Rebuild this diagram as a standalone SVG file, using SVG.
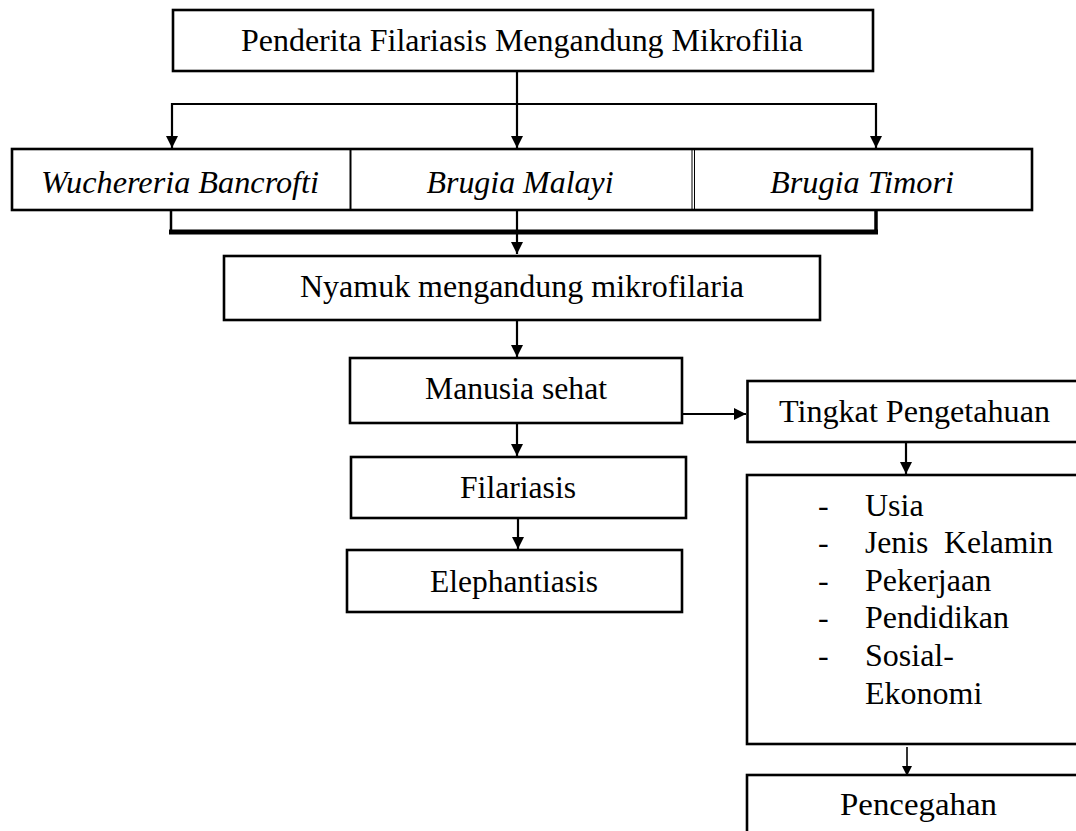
<svg xmlns="http://www.w3.org/2000/svg" width="1076" height="831" viewBox="0 0 1076 831">
<style>
.box{fill:#fff;stroke:#000;stroke-width:2.6}
text{font-family:'Liberation Serif','Times New Roman',Tinos,Times,serif;font-size:32px;fill:#000}
.c{text-anchor:middle}
.i{font-style:italic}
.ln{fill:none;stroke:#000;stroke-width:2.2}
.thin{fill:none;stroke:#000;stroke-width:1.6}
</style>
<defs>
<marker id="ah" markerUnits="userSpaceOnUse" markerWidth="12" markerHeight="14" refX="13" refY="6.5" orient="auto" viewBox="0 0 13 13">
<path d="M0,0 L13,6.5 L0,13 z" fill="#000"/>
</marker>
<marker id="ahs" markerUnits="userSpaceOnUse" markerWidth="10" markerHeight="12" refX="10" refY="5" orient="auto" viewBox="0 0 10 10">
<path d="M0,0 L10,5 L0,10 z" fill="#000"/>
</marker>
</defs>
<rect width="1076" height="831" fill="#fff"/>

<g id="connectors">
<path class="ln" d="M517,71 V148" marker-end="url(#ah)"/>
<path class="ln" d="M172,104 H876"/>
<path class="ln" d="M172,103 V148" marker-end="url(#ah)"/>
<path class="ln" d="M876,103 V148" marker-end="url(#ah)"/>
<path fill="none" stroke="#000" stroke-width="2.5" d="M171,210 V231"/>
<path fill="none" stroke="#000" stroke-width="3.5" d="M876,210 V231"/>
<path fill="none" stroke="#000" stroke-width="5" d="M169,232 H878"/>
<path class="ln" d="M517,210 V254" marker-end="url(#ah)"/>
<path class="ln" d="M517,320 V357" marker-end="url(#ah)"/>
<path class="ln" d="M517,423 V456" marker-end="url(#ah)"/>
<path class="ln" d="M518,518 V549" marker-end="url(#ah)"/>
<path class="ln" d="M682,414 H746" marker-end="url(#ah)"/>
<path class="ln" d="M906,442 V474" marker-end="url(#ah)"/>
<path class="thin" d="M907,747 V776" marker-end="url(#ahs)"/>
</g>

<g id="n-penderita">
<rect class="box" x="173" y="10" width="700" height="61"/>
<text class="c" x="522" y="51" textLength="562" lengthAdjust="spacingAndGlyphs">Penderita Filariasis Mengandung Mikrofilia</text>
</g>

<g id="n-species">
<rect class="box" x="12" y="149" width="1020" height="61"/>
<line x1="350.5" y1="149" x2="350.5" y2="210" stroke="#000" stroke-width="2"/>
<line x1="692" y1="149" x2="692" y2="210" stroke="#000" stroke-width="1"/>
<line x1="694.5" y1="149" x2="694.5" y2="210" stroke="#000" stroke-width="1"/>
</g>
<g id="n-wuchereria">
<text class="c i" x="180" y="193" textLength="278" lengthAdjust="spacingAndGlyphs">Wuchereria Bancrofti</text>
</g>
<g id="n-malayi">
<text class="c i" x="520" y="193" textLength="187" lengthAdjust="spacingAndGlyphs">Brugia Malayi</text>
</g>
<g id="n-timori">
<text class="c i" x="862" y="193" textLength="184" lengthAdjust="spacingAndGlyphs">Brugia Timori</text>
</g>

<g id="n-nyamuk">
<rect class="box" x="224" y="256" width="596" height="64"/>
<text class="c" x="522" y="297" textLength="444" lengthAdjust="spacingAndGlyphs">Nyamuk mengandung mikrofilaria</text>
</g>

<g id="n-manusia">
<rect class="box" x="350" y="358" width="332" height="65"/>
<text class="c" x="516" y="399" textLength="182" lengthAdjust="spacingAndGlyphs">Manusia sehat</text>
</g>

<g id="n-filariasis">
<rect class="box" x="351" y="457" width="335" height="61"/>
<text class="c" x="518" y="498" textLength="116" lengthAdjust="spacingAndGlyphs">Filariasis</text>
</g>

<g id="n-elephantiasis">
<rect class="box" x="347" y="550" width="335" height="62"/>
<text class="c" x="514" y="592" textLength="168" lengthAdjust="spacingAndGlyphs">Elephantiasis</text>
</g>

<g id="n-tingkat">
<rect class="box" x="747.5" y="381" width="340" height="61"/>
<text x="779" y="422" textLength="271" lengthAdjust="spacingAndGlyphs">Tingkat Pengetahuan</text>
</g>

<g id="n-faktor">
<rect class="box" x="747" y="475" width="340" height="269"/>
<text x="818" y="516">-</text>
<text x="865" y="516">Usia</text>
<text x="818" y="553">-</text>
<text x="865" y="553" xml:space="preserve" textLength="188" lengthAdjust="spacingAndGlyphs">Jenis  Kelamin</text>
<text x="818" y="591">-</text>
<text x="865" y="591">Pekerjaan</text>
<text x="818" y="628">-</text>
<text x="865" y="628">Pendidikan</text>
<text x="818" y="666">-</text>
<text x="865" y="666">Sosial-</text>
<text x="865" y="704">Ekonomi</text>
</g>

<g id="n-pencegahan">
<rect class="box" x="747" y="775" width="340" height="80"/>
<text x="840" y="815" textLength="157" lengthAdjust="spacingAndGlyphs">Pencegahan</text>
</g>
</svg>
